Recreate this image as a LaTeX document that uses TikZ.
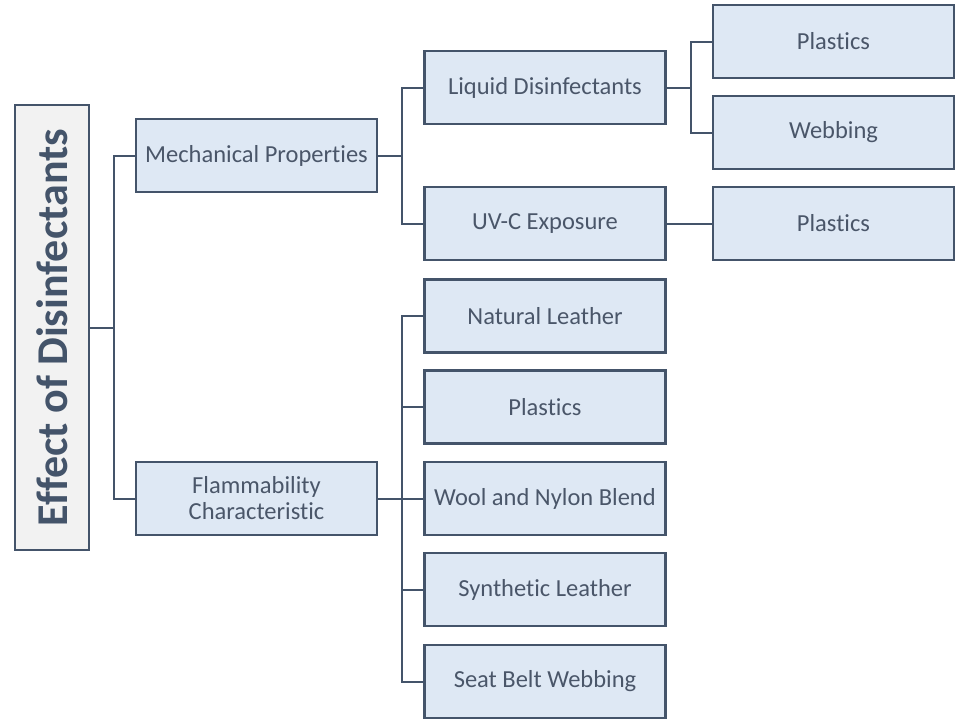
\documentclass[tikz,border=0pt]{standalone}
\usepackage{fontspec}
\setmainfont{Carlito}[Ligatures=NoCommon]
\definecolor{edge}{HTML}{44546A}
\definecolor{boxfill}{HTML}{DEE8F4}
\definecolor{rootfill}{HTML}{F2F2F2}
\definecolor{txt}{HTML}{4A5669}
\tikzset{
  box/.style={draw=edge, line width=2.2pt, fill=boxfill, minimum width=241pt, minimum height=73pt,
    inner sep=2pt, text=txt, font=\fontsize{24.5}{26}\selectfont, align=center},
  rootbox/.style={draw=edge, line width=2.2pt, fill=rootfill, minimum width=74pt, minimum height=445pt,
    inner sep=0pt},
  conn/.style={draw=edge, line width=2pt}
}
\begin{document}
\begin{tikzpicture}[x=1pt,y=1pt]
\clip (0,0) rectangle (957,-718);
\node[rootbox] (root) at (52,-327.5) {};
\node[text=edge, font=\fontsize{44}{50}\selectfont\bfseries, rotate=90] (roottxt) at (root.center) {Effect of Disinfectants};
\node[box] (mp) at (256.5,-155.5) {Mechanical Properties};
\node[box] (fl) at (256.5,-498.5) {Flammability\\Characteristic};
\node[box] (ld) at (545,-87.5) {Liquid Disinfectants};
\node[box] (uv) at (545,-223.5) {UV-C Exposure};
\node[box] (p1) at (833.5,-41.5) {Plastics};
\node[box] (wb) at (833.5,-132.5) {Webbing};
\node[box] (p2) at (833.5,-223.5) {Plastics};
\node[box] (nl) at (545,-316) {Natural Leather};
\node[box] (pl) at (545,-407) {Plastics};
\node[box] (wn) at (545,-498.5) {Wool and Nylon Blend};
\node[box] (sl) at (545,-589.5) {Synthetic Leather};
\node[box] (sb) at (545,-681.5) {Seat Belt Webbing};
\draw[conn] (root.east) -- ++(24,0) |- (mp.west);
\draw[conn] (root.east) -- ++(24,0) |- (fl.west);
\draw[conn] (mp.east) -- ++(24,0) |- (ld.west);
\draw[conn] (mp.east) -- ++(24,0) |- (uv.west);
\draw[conn] (ld.east) -- ++(24,0) |- (p1.west);
\draw[conn] (ld.east) -- ++(24,0) |- (wb.west);
\draw[conn] (uv.east) -- (p2.west);
\draw[conn] (fl.east) -- ++(24,0) |- (nl.west);
\draw[conn] (fl.east) -- ++(24,0) |- (pl.west);
\draw[conn] (fl.east) -- (wn.west);
\draw[conn] (fl.east) -- ++(24,0) |- (sl.west);
\draw[conn] (fl.east) -- ++(24,0) |- (sb.west);
\end{tikzpicture}
\end{document}
